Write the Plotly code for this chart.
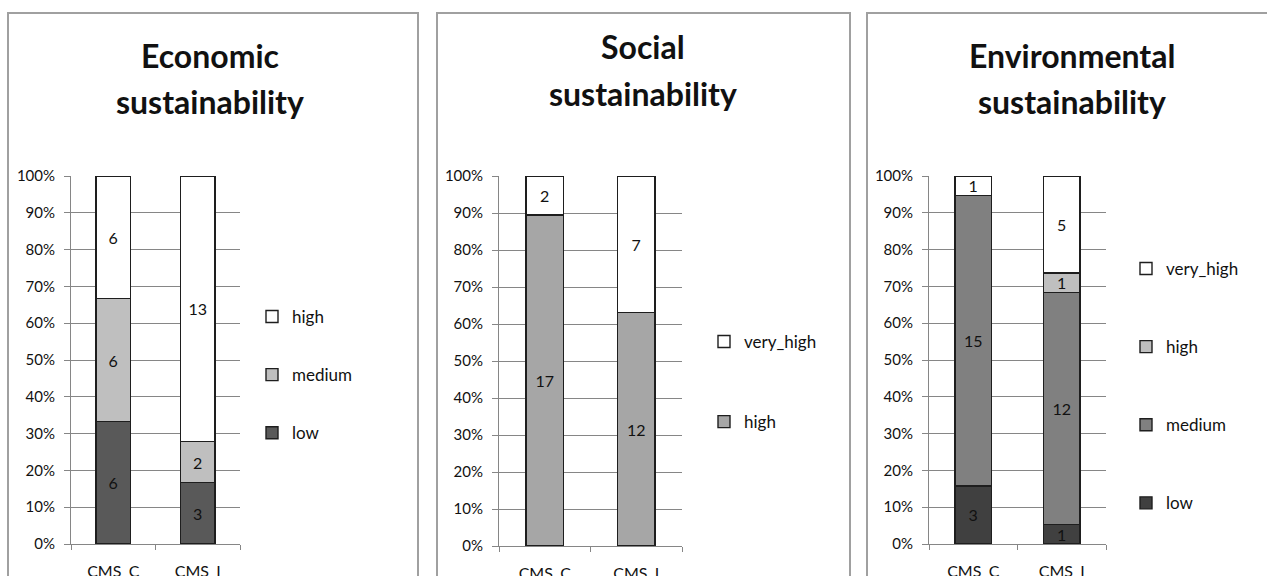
import plotly.graph_objects as go

W, H = 1267, 576

categories = ["CMS_C", "CMS_I"]

# Economic sustainability (counts per level)
eco_low = [6, 3]
eco_medium = [6, 2]
eco_high = [6, 13]

# Social sustainability
soc_high = [17, 12]
soc_very_high = [2, 7]

# Environmental sustainability
env_low = [3, 1]
env_medium = [15, 12]
env_high = [0, 1]
env_very_high = [1, 5]

y_ticks = [0, 0.1, 0.2, 0.3, 0.4, 0.5, 0.6, 0.7, 0.8, 0.9, 1.0]

FONT = "Lato"
GRID = "#868686"
OUTLINE = "#1e1e1e"


def px_x(v):
    return v / W


def px_y(v):
    return 1 - v / H


def labels(vals):
    return [str(v) if v else "" for v in vals]


fig = go.Figure()

panels = [
    # (xaxis, yaxis, legend, series listed bottom-to-top of the stack)
    ("x", "y", "legend", [
        ("low", eco_low, "#595959"),
        ("medium", eco_medium, "#bfbfbf"),
        ("high", eco_high, "#ffffff"),
    ]),
    ("x2", "y2", "legend2", [
        ("high", soc_high, "#a6a6a6"),
        ("very_high", soc_very_high, "#ffffff"),
    ]),
    ("x3", "y3", "legend3", [
        ("low", env_low, "#404040"),
        ("medium", env_medium, "#808080"),
        ("high", env_high, "#bfbfbf"),
        ("very_high", env_very_high, "#ffffff"),
    ]),
]

for xa, ya, lg, series in panels:
    n = len(series)
    for k, (name, vals, color) in enumerate(series):
        fig.add_trace(go.Bar(
            x=categories, y=vals, name=name,
            xaxis=xa, yaxis=ya, legend=lg, legendgroup=lg + name,
            legendrank=n - k,
            marker=dict(color=color, line=dict(color=OUTLINE, width=1.4)),
            text=labels(vals), textposition="inside",
            insidetextanchor="middle", textangle=0, constraintext="none",
            textfont=dict(family=FONT, size=16, color="#111111"),
            hoverinfo="skip",
        ))

# plot-area positions in pixels: (left, right, top(100%), bottom(0%))
areas = [(71, 240, 176, 544), (499, 682, 176, 546), (929, 1106, 176, 544)]

axis_common_x = dict(
    type="category", showline=True, linecolor=GRID, linewidth=1,
    ticks="outside", ticklen=5, tickcolor=GRID, tickson="boundaries",
    showgrid=False, ticklabelstandoff=13, automargin=False,
    tickfont=dict(family=FONT, size=16, color="#111111"),
    fixedrange=True,
)
axis_common_y = dict(
    range=[0, 1], tickvals=y_ticks, tickformat=".0%",
    showline=True, linecolor=GRID, linewidth=1,
    ticks="outside", ticklen=6, tickcolor=GRID,
    showgrid=True, gridcolor=GRID, gridwidth=1, zeroline=False,
    ticklabelstandoff=6, automargin=False,
    tickfont=dict(family=FONT, size=15, color="#111111"),
    fixedrange=True,
)

layout = {}
for i, (l, r, t, b) in enumerate(areas):
    sfx = "" if i == 0 else str(i + 1)
    layout["xaxis" + sfx] = dict(axis_common_x, domain=[px_x(l), px_x(r)],
                                 anchor="y" + sfx)
    layout["yaxis" + sfx] = dict(axis_common_y, domain=[px_y(b), px_y(t)],
                                 anchor="x" + sfx)

legend_common = dict(
    traceorder="grouped", bgcolor="rgba(0,0,0,0)",
    font=dict(family=FONT, size=17, color="#111111"),
    xanchor="left", yanchor="top", itemclick=False, itemdoubleclick=False,
)
layout["legend"] = dict(legend_common, x=px_x(252), y=px_y(299), tracegroupgap=33)
layout["legend2"] = dict(legend_common, x=px_x(704), y=px_y(324), tracegroupgap=55)
layout["legend3"] = dict(legend_common, x=px_x(1126), y=px_y(251), tracegroupgap=53)

# panel frames
frames = [(8, 418), (437, 850), (867, 1300)]
shapes = [
    dict(type="rect", xref="paper", yref="paper",
         x0=px_x(x0), x1=px_x(x1), y0=px_y(13), y1=px_y(640),
         line=dict(color="#a0a0a0", width=2), fillcolor="rgba(0,0,0,0)",
         layer="below")
    for x0, x1 in frames
]

titles = [(210, 55, 101, "Economic"), (643, 46, 94, "Social"),
          (1072, 55, 101, "Environmental")]
annotations = []
for cx, y1, y2, word in titles:
    for yy, txt in ((y1, word), (y2, "sustainability")):
        annotations.append(dict(
            text=txt, x=px_x(cx), y=px_y(yy), xref="paper", yref="paper",
            xanchor="center", yanchor="middle", showarrow=False,
            font=dict(family=FONT, size=32, color="#111111", weight="bold"),
        ))

fig.update_layout(
    width=W, height=H,
    margin=dict(l=0, r=0, t=0, b=0, pad=0, autoexpand=False),
    paper_bgcolor="white", plot_bgcolor="white",
    barmode="stack", barnorm="fraction", bargap=0.59,
    showlegend=True, shapes=shapes, annotations=annotations,
    **layout,
)

fig.write_html("out.html", config={"displayModeBar": False})
